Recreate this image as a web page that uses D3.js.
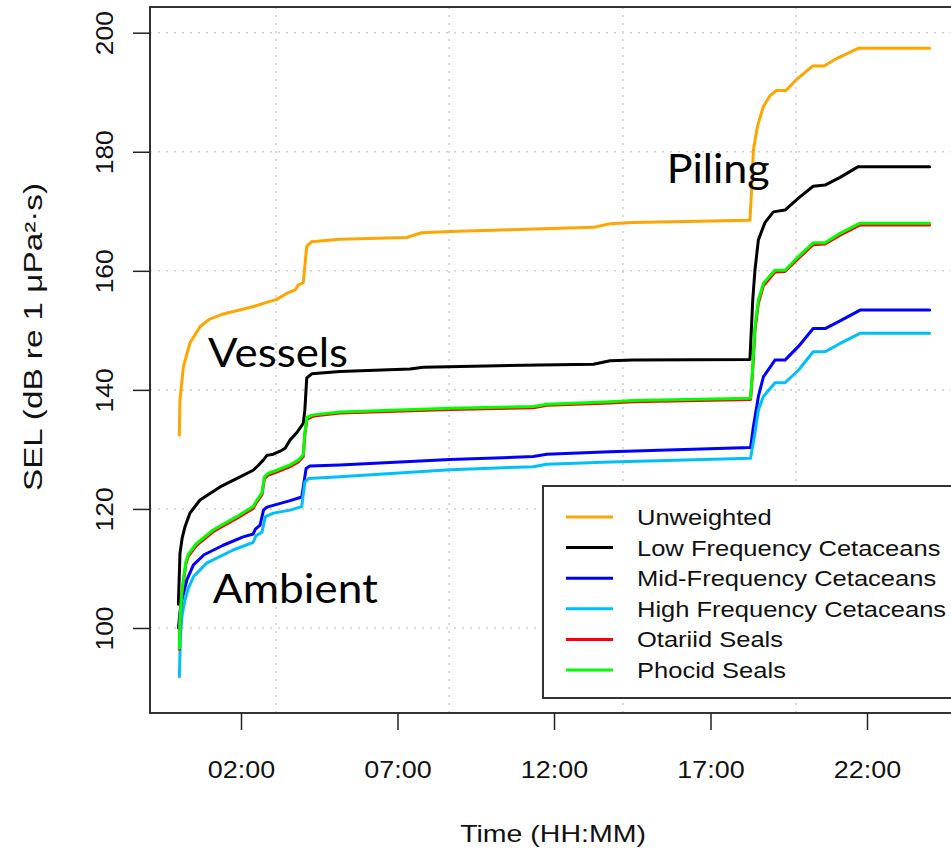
<!DOCTYPE html>
<html>
<head>
<meta charset="utf-8">
<script src="https://cdn.jsdelivr.net/npm/d3@7"></script>
<style>
  html, body { margin: 0; padding: 0; background: #fff; }
  svg { display: block; }
  .rtext { font-family: "Liberation Sans", Arial, sans-serif; fill: #111; }
  .note { font-family: Lato, "Open Sans", sans-serif; fill: #000; }
</style>
</head>
<body>
<svg id="chart" width="951" height="851"></svg>
<script>
// Cumulative SEL over one day, [hour of day, dB re 1 µPa²·s]
const unweighted = [
  [0.03,132.4],[0.05,138.3],[0.16,143.9],[0.37,147.9],[0.69,150.6],[1.0,151.9],[1.4,152.7],
  [1.86,153.3],[2.4,154.0],[2.82,154.7],[3.14,155.2],[3.46,156.2],[3.73,156.8],[3.83,157.6],
  [3.99,158.0],[4.10,164.1],[4.26,164.9],[5.16,165.3],[7.29,165.6],[7.77,166.4],[8.68,166.6],
  [10.59,166.9],[13.26,167.3],[13.79,167.9],[14.52,168.1],[18.26,168.5],[18.32,174.1],[18.37,180.3],
  [18.48,183.7],[18.53,184.8],[18.69,187.6],[18.90,189.4],[19.11,190.3],[19.41,190.3],[19.78,192.3],
  [20.26,194.4],[20.63,194.4],[21.04,195.7],[21.74,197.4],[24.0,197.4]
];
const lowFreq = [
  [0.0,104.0],[0.05,112.5],[0.12,115.1],[0.21,117.0],[0.37,119.3],[0.69,121.5],[1.01,122.6],
  [1.33,123.7],[1.97,125.4],[2.39,126.5],[2.55,127.3],[2.71,128.2],[2.83,129.0],[3.03,129.2],
  [3.25,129.7],[3.41,130.2],[3.57,131.6],[3.78,132.8],[3.94,134.0],[3.99,134.4],[4.04,136.6],
  [4.10,142.0],[4.26,142.7],[5.16,143.1],[7.40,143.5],[7.82,143.8],[11.55,144.2],[13.26,144.3],
  [13.79,144.9],[14.53,145.0],[18.26,145.1],[18.35,155.1],[18.42,160.1],[18.53,165.2],[18.74,168.1],
  [19.01,169.9],[19.38,170.2],[19.81,172.2],[20.28,174.2],[20.66,174.4],[21.14,175.7],[21.72,177.5],
  [24.0,177.5]
];
const midFreq = [
  [0.0,100.0],[0.05,102.7],[0.11,104.7],[0.27,108.1],[0.48,110.6],[0.82,112.3],[1.43,113.9],
  [2.07,115.3],[2.39,115.8],[2.46,116.6],[2.61,117.3],[2.72,119.8],[2.83,120.3],[3.57,121.4],
  [3.94,122.0],[3.99,123.7],[4.08,126.8],[4.20,127.2],[5.16,127.4],[8.68,128.3],[11.34,128.8],
  [11.77,129.2],[13.79,129.6],[18.28,130.3],[18.37,133.8],[18.53,138.9],[18.69,142.2],[19.06,145.0],
  [19.38,145.0],[19.81,147.3],[20.28,150.3],[20.66,150.3],[21.14,151.6],[21.78,153.4],[24.0,153.4]
];
const highFreq = [
  [0.03,91.8],[0.07,99.1],[0.12,102.2],[0.21,104.7],[0.32,106.7],[0.48,108.6],[0.90,110.9],
  [1.75,113.1],[2.39,114.4],[2.48,115.5],[2.67,116.1],[2.78,118.7],[3.03,119.3],[3.57,119.8],
  [3.94,120.4],[4.04,124.5],[4.16,125.1],[5.16,125.4],[8.68,126.6],[11.34,127.1],[11.77,127.5],
  [13.79,127.9],[18.28,128.5],[18.42,132.7],[18.53,136.6],[18.69,138.9],[19.06,141.2],[19.38,141.2],
  [19.81,143.3],[20.28,146.4],[20.66,146.4],[21.14,147.8],[21.78,149.5],[24.0,149.5]
];
const otariid = [
  [0.03,96.4],[0.05,101.0],[0.10,105.2],[0.16,107.8],[0.24,110.8],[0.32,112.1],[0.58,113.9],
  [1.12,116.2],[1.86,118.4],[2.39,120.1],[2.51,121.2],[2.67,122.4],[2.75,125.1],[2.87,125.7],
  [3.14,126.2],[3.57,127.1],[3.83,127.9],[3.99,128.8],[4.04,132.5],[4.11,135.1],[4.31,135.6],
  [5.16,136.1],[8.68,136.7],[11.34,137.0],[11.77,137.4],[13.79,137.8],[14.53,138.0],[18.28,138.4],
  [18.35,143.4],[18.42,150.0],[18.53,154.6],[18.69,157.5],[19.06,159.8],[19.38,159.9],[19.81,162.1],
  [20.28,164.4],[20.66,164.5],[21.14,166.0],[21.78,167.7],[24.0,167.7]
];
const phocid = [
  [0.03,96.6],[0.05,101.3],[0.10,105.5],[0.16,108.1],[0.24,111.1],[0.32,112.4],[0.58,114.2],
  [1.12,116.5],[1.86,118.7],[2.39,120.4],[2.51,121.5],[2.67,122.7],[2.75,125.4],[2.87,126.0],
  [3.14,126.5],[3.57,127.4],[3.83,128.2],[3.99,129.1],[4.04,132.8],[4.11,135.4],[4.31,135.8],
  [5.16,136.3],[8.68,136.9],[11.34,137.2],[11.77,137.6],[13.79,138.0],[14.53,138.2],[18.28,138.6],
  [18.35,143.9],[18.42,150.6],[18.53,155.1],[18.69,157.9],[19.06,160.1],[19.38,160.1],[19.81,162.4],
  [20.28,164.7],[20.66,164.7],[21.14,166.3],[21.78,168.0],[24.0,168.0]
];

const seriesNames = ["Unweighted", "Low Frequency Cetaceans", "Mid-Frequency Cetaceans",
                     "High Frequency Cetaceans", "Otariid Seals", "Phocid Seals"];
const seriesColors = ["#FFA500", "#000000", "#0000FF", "#00BFFF", "#FF0000", "#00FF00"];
const seriesData = [unweighted, lowFreq, midFreq, highFreq, otariid, phocid];

const yTicks = [100, 120, 140, 160, 180, 200];
const xTickHours = [2, 7, 12, 17, 22];
const xTickLabels = ["02:00", "07:00", "12:00", "17:00", "22:00"];
const xGridHours = [3.12, 8.65, 14.2, 19.73];

const svg = d3.select("#chart");

// plot frame and scales
const box = { left: 150, top: 7, right: 962, bottom: 713 };
const x = d3.scaleLinear().domain([0, 24]).range([178.4, 929.6]);
const y = d3.scaleLinear().domain([100, 200]).range([628, 32.7]);

// dotted grid
const grid = svg.append("g").attr("stroke", "#cfcfcf").attr("stroke-width", 1.6)
  .attr("stroke-dasharray", "2,6");
grid.selectAll("line.h").data(yTicks).join("line")
  .attr("x1", box.left).attr("x2", box.right)
  .attr("y1", d => y(d)).attr("y2", d => y(d));
grid.selectAll("line.v").data(xGridHours).join("line")
  .attr("x1", d => x(d)).attr("x2", d => x(d))
  .attr("y1", box.top).attr("y2", box.bottom);

// series lines
const line = d3.line().x(d => x(d[0])).y(d => y(d[1]));
svg.append("g").selectAll("path").data(seriesData).join("path")
  .attr("d", line)
  .attr("fill", "none")
  .attr("stroke", (d, i) => seriesColors[i])
  .attr("stroke-width", 3)
  .attr("stroke-linejoin", "round")
  .attr("stroke-linecap", "round");

// frame
svg.append("rect")
  .attr("x", box.left).attr("y", box.top)
  .attr("width", box.right - box.left).attr("height", box.bottom - box.top)
  .attr("fill", "none").attr("stroke", "#333").attr("stroke-width", 2);

// axes
const xAxis = d3.axisBottom(x).tickValues(xTickHours)
  .tickFormat((d, i) => xTickLabels[i]).tickSize(17).tickPadding(0);
const gx = svg.append("g").attr("transform", `translate(0,${box.bottom})`).call(xAxis);
gx.select(".domain").remove();
gx.selectAll(".tick line").attr("stroke", "#222").attr("stroke-width", 1.5);
gx.selectAll(".tick text").remove();
gx.selectAll(".tick").append("text")
  .attr("class", "rtext")
  .attr("text-anchor", "middle")
  .attr("font-size", 23)
  .attr("transform", "translate(0,65) scale(1.17,1)")
  .text((d, i) => xTickLabels[i]);

const yAxis = d3.axisLeft(y).tickValues(yTicks).tickSize(17).tickPadding(0);
const gy = svg.append("g").attr("transform", `translate(${box.left},0)`).call(yAxis);
gy.select(".domain").remove();
gy.selectAll(".tick line").attr("stroke", "#222").attr("stroke-width", 1.5);
gy.selectAll(".tick text").remove();
gy.selectAll(".tick").append("text")
  .attr("class", "rtext")
  .attr("text-anchor", "middle")
  .attr("font-size", 24)
  .attr("transform", "translate(-37,0) rotate(-90) scale(1.1,1)")
  .text(d => d);

// axis titles
svg.append("text").attr("class", "rtext")
  .attr("text-anchor", "middle").attr("font-size", 23)
  .attr("transform", "translate(553,842) scale(1.24,1)")
  .text("Time (HH:MM)");
svg.append("text").attr("class", "rtext")
  .attr("text-anchor", "middle").attr("font-size", 25)
  .attr("transform", "translate(42,337) rotate(-90) scale(1.33,1)")
  .text("SEL (dB re 1 μPa²·s)");

// legend
const legend = svg.append("g");
legend.append("rect")
  .attr("x", 543).attr("y", 486).attr("width", 430).attr("height", 212)
  .attr("fill", "#fff").attr("stroke", "#333").attr("stroke-width", 2);
const rows = legend.selectAll("g.row").data(seriesNames).join("g")
  .attr("transform", (d, i) => `translate(0,${517 + i * 30.6})`);
rows.append("line")
  .attr("x1", 566).attr("x2", 613).attr("y1", 0).attr("y2", 0)
  .attr("stroke", (d, i) => seriesColors[i]).attr("stroke-width", 3);
rows.append("text").attr("class", "rtext")
  .attr("font-size", 22)
  .attr("transform", "translate(637,8) scale(1.16,1)")
  .text(d => d);

// event annotations
const notes = [
  { text: "Vessels", hx: 0.95, v: 143.8, w: 140 },
  { text: "Ambient", hx: 1.1, v: 104.2, w: 165 },
  { text: "Piling", hx: 15.6, v: 174.8, w: 103 }
];
svg.append("g").selectAll("text").data(notes).join("text")
  .attr("class", "note")
  .attr("font-size", 40)
  .attr("x", d => x(d.hx)).attr("y", d => y(d.v))
  .attr("textLength", d => d.w).attr("lengthAdjust", "spacingAndGlyphs")
  .text(d => d.text);
</script>
</body>
</html>
